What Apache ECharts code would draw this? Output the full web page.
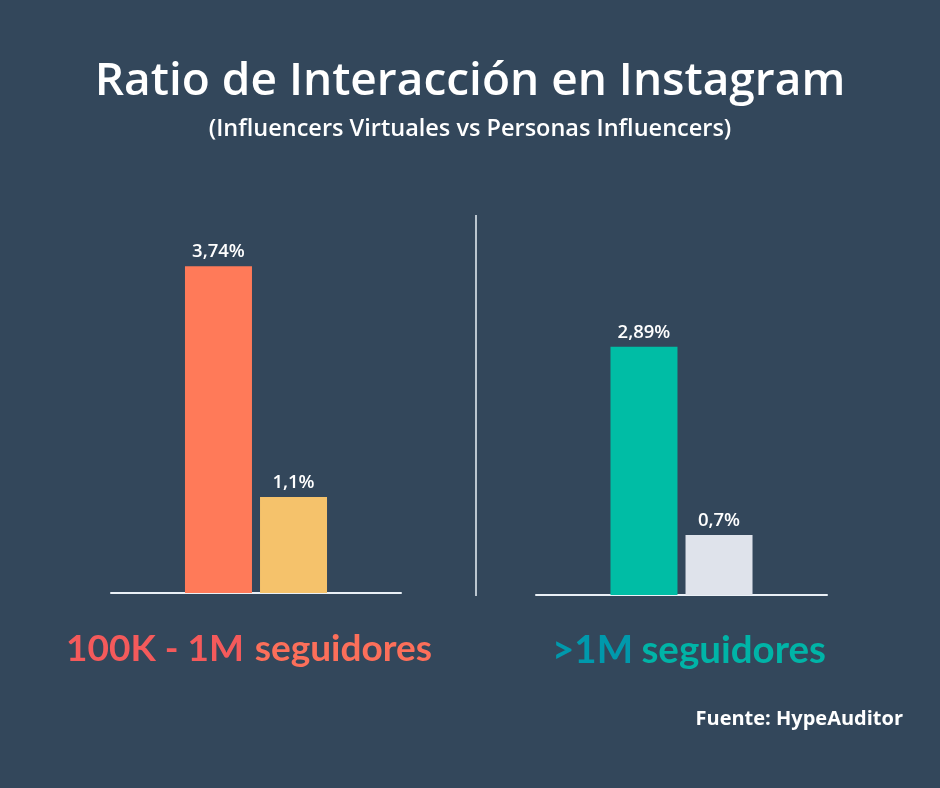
<!DOCTYPE html>
<html>
<head>
<meta charset="utf-8">
<script src="https://cdn.jsdelivr.net/npm/echarts@6/dist/echarts.min.js"></script>
<style>
  html, body { margin: 0; padding: 0; background: #33475b; }
  #chart { width: 940px; height: 788px; }
</style>
</head>
<body>
<div id="chart"></div>
<script>
// datos
var seriesNames = ['Influencers Virtuales', 'Personas Influencers'];
var groupLabels = ['100K - 1M seguidores', '>1M seguidores'];
var virtualValues = [3.74, 2.89];
var personaValues = [1.1, 0.7];
var virtualColors = ['#ff7a59', '#00bda5'];
var personaColors = ['#f5c26b', '#dfe3eb'];

var font = '"Open Sans", Lato, sans-serif';
var boldFont = 'Lato, "Open Sans", sans-serif';

function fmt(p) {
  return String(p.value).replace('.', ',') + '%';
}

function barSeries(name, value, color, idx) {
  return {
    name: name,
    type: 'bar',
    xAxisIndex: idx,
    yAxisIndex: idx,
    barWidth: 67,
    barGap: '12%',
    data: [value],
    itemStyle: { color: color },
    label: {
      show: true,
      position: 'top',
      distance: 5,
      color: '#ffffff',
      fontFamily: font,
      fontWeight: 600,
      fontSize: 18.5,
      formatter: fmt
    }
  };
}

// etiqueta de grupo partida en dos textos: primera parte a la izquierda,
// "seguidores" alineado a la derecha, con tonos distintos
function groupText(label, size, left, right, c1, c2) {
  var cut = label.lastIndexOf(' ');
  var f = 'bold ' + size + 'px ' + boldFont;
  return [{
    type: 'text', left: left, top: 631,
    style: { text: label.slice(0, cut), font: f, fill: c1 }
  }, {
    type: 'text', right: 940 - right, top: 631,
    style: { text: label.slice(cut + 1), font: f, fill: c2 }
  }];
}

var chart = echarts.init(document.getElementById('chart'));

var series = [];
for (var i = 0; i < groupLabels.length; i++) {
  series.push(barSeries(seriesNames[0], virtualValues[i], virtualColors[i], i));
  series.push(barSeries(seriesNames[1], personaValues[i], personaColors[i], i));
}

var axisLine = { show: true, lineStyle: { color: '#eaf0f6', width: 2 } };

chart.setOption({
  backgroundColor: '#33475b',
  animation: false,
  title: [{
    text: 'Ratio de Interacción en Instagram',
    left: 'center',
    top: 54,
    textStyle: { color: '#ffffff', fontFamily: font, fontWeight: 600, fontSize: 46 }
  }, {
    text: '(Influencers Virtuales vs Personas Influencers)',
    left: 'center',
    top: 112,
    textStyle: { color: '#ffffff', fontFamily: font, fontWeight: 600, fontSize: 23.5 }
  }],
  grid: [
    { left: 111, right: 539, top: 200, bottom: 195 },
    { left: 536, right: 113, top: 200, bottom: 193 }
  ],
  xAxis: [0, 1].map(function (i) {
    return {
      type: 'category',
      gridIndex: i,
      data: [groupLabels[i]],
      axisLine: axisLine,
      axisTick: { show: false },
      axisLabel: { show: false }
    };
  }),
  yAxis: [
    { type: 'value', gridIndex: 0, min: 0, max: 4.5, show: false },
    { type: 'value', gridIndex: 1, min: 0, max: 4.6, show: false }
  ],
  series: series,
  graphic: [
    {
      type: 'line',
      shape: { x1: 476, y1: 215, x2: 476, y2: 596 },
      style: { stroke: '#eaf0f6', lineWidth: 1.5 }
    },
    {
      type: 'text',
      right: 37,
      top: 709,
      style: {
        text: 'Fuente: HypeAuditor',
        font: 'bold 20px ' + font,
        fill: '#ffffff'
      }
    }
  ].concat(
    groupText(groupLabels[0], 37, 66, 432, '#f45a5b', '#fc6f5a'),
    groupText(groupLabels[1], 38.5, 552, 826, '#0099ac', '#00b4a7')
  )
});
</script>
</body>
</html>
